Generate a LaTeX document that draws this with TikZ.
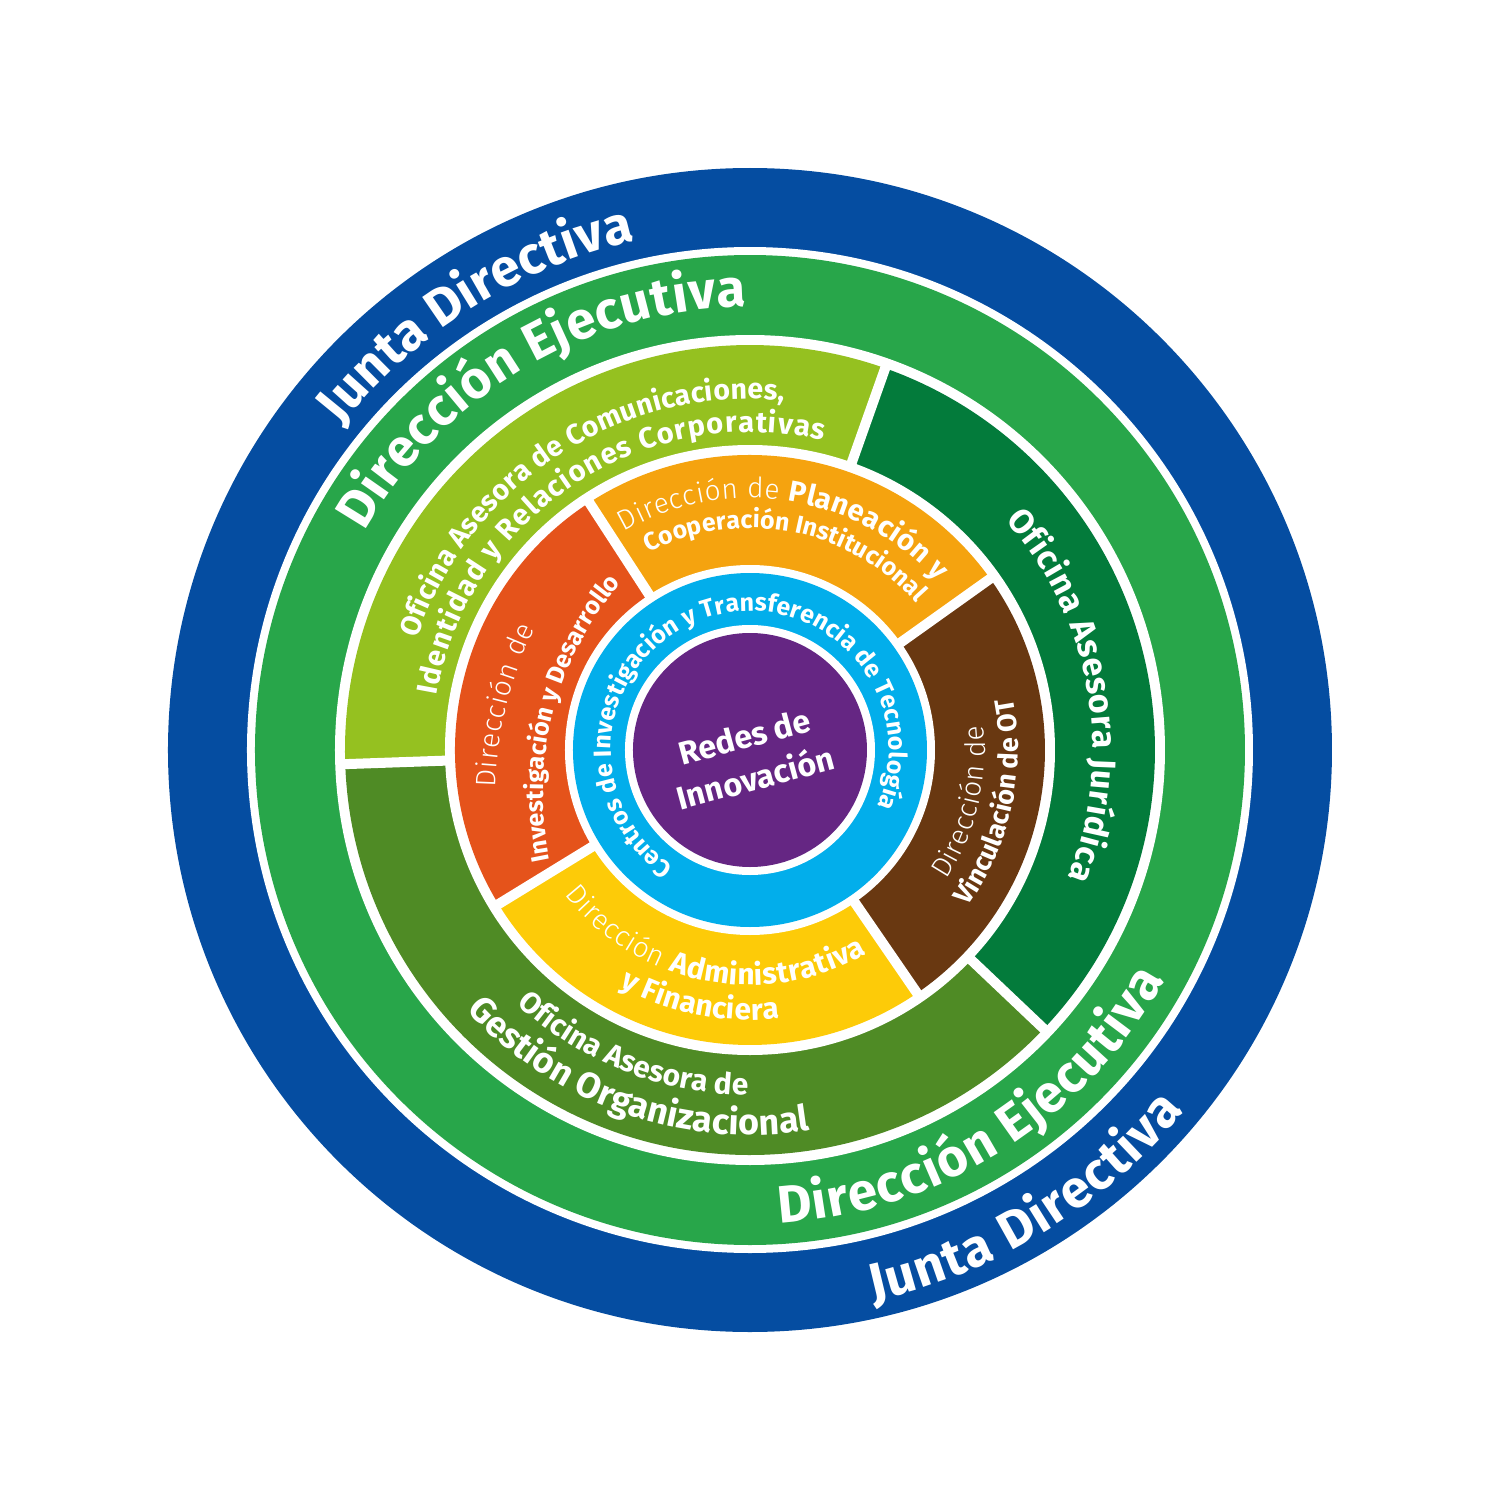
\documentclass[tikz,border=0pt]{standalone}
\usepackage{fontspec}
\setmainfont{Fira Sans}
\IfFontExistsTF{Fira Sans Light}{\newfontfamily\lightfont{Fira Sans Light}}{\newfontfamily\lightfont{Fira Sans}}
\usetikzlibrary{decorations.text}

\definecolor{cBlue}{HTML}{054DA1}
\definecolor{cGreen}{HTML}{28A64A}
\definecolor{cLime}{HTML}{95C120}
\definecolor{cDark}{HTML}{037B3B}
\definecolor{cOlive}{HTML}{4F8B25}
\definecolor{cOrange}{HTML}{F5A30F}
\definecolor{cRed}{HTML}{E5531B}
\definecolor{cBrown}{HTML}{693811}
\definecolor{cYellow}{HTML}{FDCB08}
\definecolor{cCyan}{HTML}{02AEEB}
\definecolor{cPurple}{HTML}{652683}

\newcommand\fBig{\normalfont\fontsize{15pt}{18pt}\selectfont\bfseries}
\newcommand\fComA{\normalfont\fontsize{8.1pt}{10pt}\selectfont\bfseries}
\newcommand\fComB{\normalfont\fontsize{8.3pt}{10pt}\selectfont\bfseries}
\newcommand\fJur{\normalfont\fontsize{9.7pt}{12pt}\selectfont\bfseries}
\newcommand\fGesA{\normalfont\fontsize{8.5pt}{10pt}\selectfont\bfseries}
\newcommand\fGesB{\normalfont\fontsize{10.2pt}{12pt}\selectfont\bfseries}
\newcommand\fLt{\lightfont\fontsize{8pt}{10pt}\selectfont}
\newcommand\fBdS{\normalfont\fontsize{7.1pt}{9pt}\selectfont\bfseries}
\newcommand\fPla{\normalfont\fontsize{8.3pt}{10pt}\selectfont\bfseries}
\newcommand\fBdM{\normalfont\fontsize{8.5pt}{10pt}\selectfont\bfseries}
\newcommand\fBdV{\normalfont\fontsize{7.7pt}{9pt}\selectfont\bfseries}
\newcommand\fCy{\normalfont\fontsize{7.1pt}{9pt}\selectfont\bfseries}
\newcommand\fCenter{\normalfont\fontsize{9.2pt}{12.2pt}\selectfont\bfseries}

\tikzset{
  arctext/.style={decorate, decoration={text along path, text={#1}, text align={fit to path}, text color=white}},
  sepline/.style={white, line width=2.85pt},
}

% [center]{radius}{start angle}{end angle}{text}
\newcommand\ArcText[5][0,0]{%
  \path[shift={(#1)}, arctext={#5}] (#3:#2) arc[start angle=#3, end angle=#4, radius=#2];}

\begin{document}
\begin{tikzpicture}
\useasboundingbox (-7.5,-7.5) rectangle (7.5,7.5);
\fill[white] (-7.5,-7.5) rectangle (7.5,7.5);

% outer rings
\fill[cBlue] (0,0) circle (5.82);
\fill[white] (0,0) circle (5.03);
\fill[cGreen] (0,0) circle (4.95);
\fill[white] (0,0) circle (4.15);

% offices ring
\fill[cLime]  (0,0) -- (70.5:4.05) arc[start angle=70.5, end angle=182, radius=4.05] -- cycle;
\fill[cDark]  (0,0) -- (-43.5:4.05) arc[start angle=-43.5, end angle=70.5, radius=4.05] -- cycle;
\fill[cOlive] (0,0) -- (182:4.05) arc[start angle=182, end angle=316.5, radius=4.05] -- cycle;
\foreach \a in {70.5,182,316.5} \draw[sepline] (0,0) -- (\a:4.1);
\fill[white] (0,0) circle (3.05);

% directions ring
\fill[cOrange] (0,0) -- (35.5:2.95) arc[start angle=35.5, end angle=123, radius=2.95] -- cycle;
\fill[cRed]    (0,0) -- (123:2.95) arc[start angle=123, end angle=211.5, radius=2.95] -- cycle;
\fill[cYellow] (0,0) -- (211.5:2.95) arc[start angle=211.5, end angle=304.5, radius=2.95] -- cycle;
\fill[cBrown]  (0,0) -- (-55.5:2.95) arc[start angle=-55.5, end angle=35.5, radius=2.95] -- cycle;
\foreach \a in {35.5,123,211.5,304.5} \draw[sepline] (0,0) -- (\a:3.0);
\fill[white] (0,0) circle (1.85);

% centre
\fill[cCyan] (0,0) circle (1.77);
\fill[white] (0,0) circle (1.25);
\fill[cPurple] (0,0) circle (1.17);

% texts
\ArcText{5.22}{141.6}{102.8}{|\fBig|Junta Directiva}
\ArcText{5.65}{-77.4}{-39.7}{|\fBig|Junta Directiva}
\ArcText{4.43}{150.5}{90.5}{|\fBig|Dirección Ejecutiva}
\ArcText{4.74}{-86.4}{-29}{|\fBig|Dirección Ejecutiva}

\ArcText{3.51}{161.5}{84.5}{|\fComA|Oficina Asesora de Comunicaciones,}
\ArcText{3.18}{170.2}{76.6}{|\fComB|Identidad y Relaciones Corporativas}
\ArcText{3.43}{42}{-22}{|\fJur|Oficina Asesora Jurídica}
\ArcText{3.45}{227.4}{269.7}{|\fGesA|Oficina Asesora de}
\ArcText{3.85}{222.6}{279}{|\fGesB|Gestión Organizacional}

\ArcText{2.52}{120}{42}{|\fLt|Dirección de |\fPla|Planeación y}
\ArcText{2.22}{117.2}{41.4}{|\fBdS|Cooperación Institucional}
\ArcText[1.17,-0.44]{3.71}{179}{153.5}{|\fLt|Dirección de}
\ArcText[1.17,-0.44]{3.24}{191.8}{140.5}{|\fBdS|Investigación y Desarrollo}
\ArcText{2.35}{-33.5}{6}{|\fLt|Dirección de}
\ArcText{2.68}{-35.8}{10.7}{|\fBdV|Vinculación de OT}
\ArcText{2.35}{218}{300}{|\fLt|Dirección |\fBdM|Administrativa}
\ArcText{2.70}{241}{276.3}{|\fBdM|y Financiera}

\ArcText{1.39}{236.6}{-24}{|\fCy|Centros de Investigación y Transferencia de Tecnología}

\node[text=white, font=\fCenter, align=center, rotate=15, inner sep=0pt] (redes) at (0,-0.07) {Redes de\\Innovación};
\end{tikzpicture}
\end{document}
